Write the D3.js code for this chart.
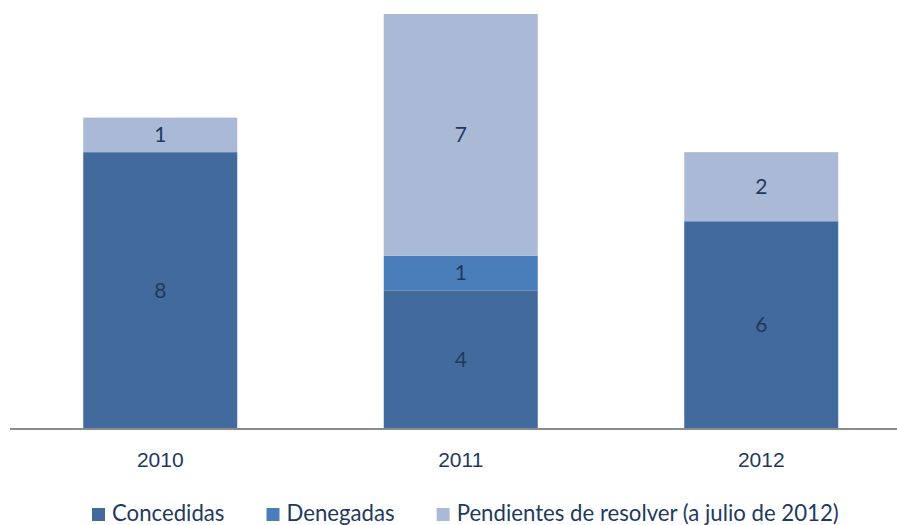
<!DOCTYPE html>
<html>
<head>
<meta charset="utf-8">
<script src="https://d3js.org/d3.v7.min.js"></script>
<style>
  body { margin: 0; background: #fff; }
  svg { display: block; font-family: Lato, "Open Sans", sans-serif; }
</style>
</head>
<body>
<script>
// datos
var years = ["2010", "2011", "2012"];
var concedidas = [8, 4, 6];
var denegadas = [0, 1, 0];
var pendientes = [1, 7, 2];
var seriesNames = ["Concedidas", "Denegadas", "Pendientes de resolver (a julio de 2012)"];
var seriesColors = ["#426A9C", "#4A7EBB", "#AAB9D6"];

var width = 897, height = 525;
var textColor = "#1F3A5F";

var svg = d3.select("body").append("svg").attr("width", width).attr("height", height);

var rows = years.map(function(y, i) {
  return { year: y, Concedidas: concedidas[i], Denegadas: denegadas[i], Pendientes: pendientes[i] };
});
var keys = ["Concedidas", "Denegadas", "Pendientes"];
var stacked = d3.stack().keys(keys)(rows);

var x = d3.scaleBand().domain(years).range([10, 911.5]).paddingInner(0.4875).paddingOuter(0.24375);
var y = d3.scaleLinear().domain([0, 12]).range([428.5, 14]);

// barras
var layers = svg.append("g").selectAll("g").data(stacked).enter().append("g")
  .attr("fill", function(d, i) { return seriesColors[i]; });

layers.selectAll("rect").data(function(d) { return d; }).enter().append("rect")
  .attr("x", function(d) { return x(d.data.year); })
  .attr("width", x.bandwidth())
  .attr("y", function(d) { return y(d[1]); })
  .attr("height", function(d) { return y(d[0]) - y(d[1]); });

// etiquetas de valores
layers.selectAll("text").data(function(d) { return d.filter(function(v) { return v[1] - v[0] > 0; }); })
  .enter().append("text")
  .attr("x", function(d) { return x(d.data.year) + x.bandwidth() / 2; })
  .attr("y", function(d) { return (y(d[0]) + y(d[1])) / 2; })
  .attr("dy", "0.35em")
  .attr("text-anchor", "middle")
  .attr("font-size", 21)
  .attr("fill", textColor)
  .text(function(d) { return d[1] - d[0]; });

// eje x
var axis = svg.append("g").attr("transform", "translate(0," + 429 + ")")
  .call(d3.axisBottom(x).tickSize(0).tickPadding(23));
axis.select(".domain").attr("d", "M10,0H897").attr("stroke", "#8C8C8C").attr("stroke-width", 2);
axis.selectAll("text").attr("font-size", 21).attr("fill", textColor).attr("font-family", null);

// leyenda
var legend = svg.append("g");
var lx = 92;
seriesNames.forEach(function(name, i) {
  legend.append("rect").attr("x", lx).attr("y", 508).attr("width", 13).attr("height", 13)
    .attr("fill", seriesColors[i]);
  var t = legend.append("text").attr("x", lx + 20).attr("y", 521)
    .attr("font-size", 22.2).attr("fill", textColor).text(name);
  lx += 20 + t.node().getComputedTextLength() + 42;
});
</script>
</body>
</html>
